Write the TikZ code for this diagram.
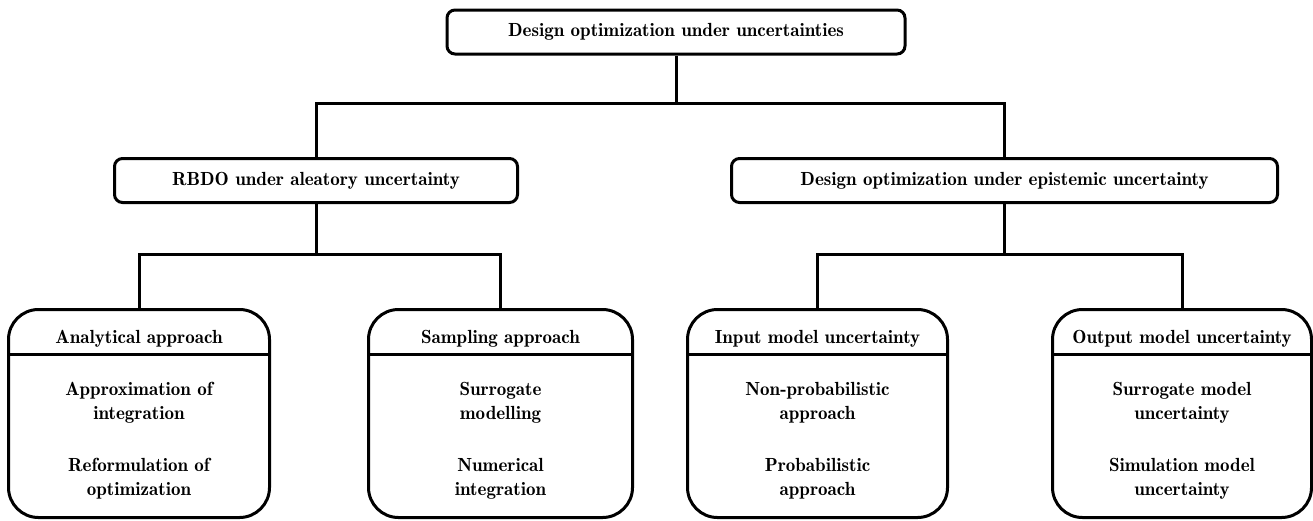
\documentclass[tikz,border=0pt]{standalone}
\usepackage{fontspec}
\setmainfont{lmromandemi10-regular.otf}
\usetikzlibrary{calc}
\begin{document}
\begin{tikzpicture}[x=1pt,y=-1pt,line width=3pt,
  txt/.style={font=\fontsize{19}{24}\selectfont},
  headbox/.style={draw, rounded corners=8pt, minimum height=44pt, inner sep=0pt, txt},
  leafbox/.style={draw, rounded corners=30pt, minimum height=208pt, inner sep=0pt},
  leaftitle/.style={txt, inner sep=0pt},
  leafitem/.style={txt, align=center, inner sep=0pt},
  wire/.style={line width=3pt}]
\useasboundingbox (0,0) rectangle (1313,520);

\node[headbox, minimum width=458pt] (root) at (676,32) {Design optimization under uncertainties};
\node[headbox, minimum width=403pt] (rbdo) at (316,180.5) {RBDO under aleatory uncertainty};
\node[headbox, minimum width=546pt] (epi) at (1004.5,180.5) {Design optimization under epistemic uncertainty};

\node[leafbox, minimum width=261pt] (ana) at (139,413.5) {};
\node[leafbox, minimum width=264pt] (sam) at (500.5,413.5) {};
\node[leafbox, minimum width=260pt] (inp) at (817.5,413.5) {};
\node[leafbox, minimum width=259pt] (out) at (1182,413.5) {};

\foreach \b in {ana,sam,inp,out}{
  \draw[wire] ($(\b.north west)+(0,46)$) -- ($(\b.north east)+(0,46)$);
}

\node[leaftitle] (anat) at (139,339) {Analytical approach};
\node[leafitem] (ana1) at (139,403) {Approximation of\\integration};
\node[leafitem] (ana2) at (139,479) {Reformulation of\\optimization};

\node[leaftitle] (samt) at (500.5,339) {Sampling approach};
\node[leafitem] (sam1) at (500.5,403) {Surrogate\\modelling};
\node[leafitem] (sam2) at (500.5,479) {Numerical\\integration};

\node[leaftitle] (inpt) at (817.5,339) {Input model uncertainty};
\node[leafitem] (inp1) at (817.5,403) {Non-probabilistic\\approach};
\node[leafitem] (inp2) at (817.5,479) {Probabilistic\\approach};

\node[leaftitle] (outt) at (1182,339) {Output model uncertainty};
\node[leafitem] (out1) at (1182,403) {Surrogate model\\uncertainty};
\node[leafitem] (out2) at (1182,479) {Simulation model\\uncertainty};

\coordinate (j0) at ($(root.south)+(0,48)$);
\coordinate (j1) at ($(rbdo.south)+(0,50)$);
\coordinate (j2) at ($(epi.south)+(0,50)$);

\draw[wire] (root.south) -- (j0);
\draw[wire] (rbdo.north) -- (rbdo.north |- j0) -- (epi.north |- j0) -- (epi.north);
\draw[wire] (rbdo.south) -- (j1);
\draw[wire] (ana.north) -- (ana.north |- j1) -- (sam.north |- j1) -- (sam.north);
\draw[wire] (epi.south) -- (j2);
\draw[wire] (inp.north) -- (inp.north |- j2) -- (out.north |- j2) -- (out.north);
\end{tikzpicture}
\end{document}
